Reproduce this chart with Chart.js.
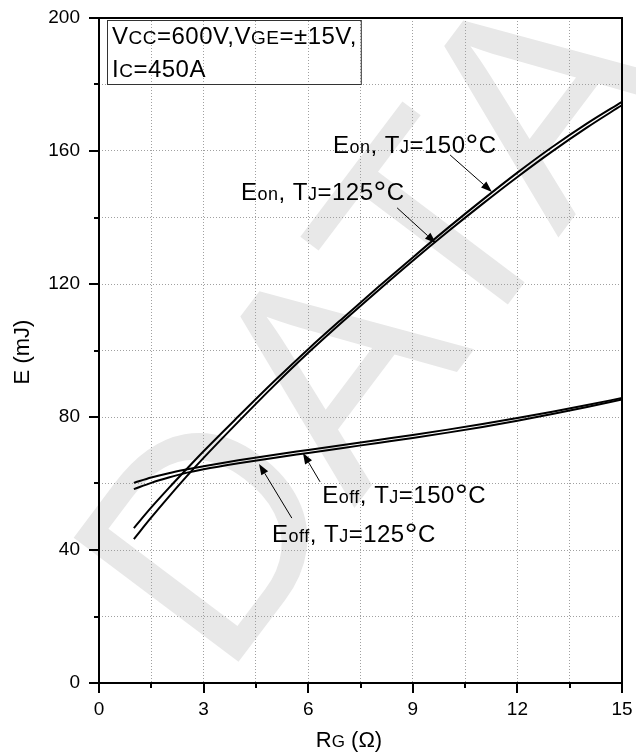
<!DOCTYPE html>
<html>
<head>
<meta charset="utf-8">
<script src="https://cdn.jsdelivr.net/npm/chart.js@4.4.0/dist/chart.umd.min.js"></script>
<style>
html, body { margin: 0; padding: 0; background: #fff; }
</style>
</head>
<body>
<canvas id="grafica" width="636" height="755"></canvas>
<script>
// RG (ohm) y energias (mJ)
const rg = [1, 1.5, 2, 2.5, 3, 4, 5, 6, 7, 8, 9, 10, 11, 12, 13, 14, 15];
const eon150 = [46.6, 52.8, 58.6, 64.2, 69.7, 80.2, 90.5, 100.4, 109.8, 119.0, 128.0, 136.8, 145.3, 153.5, 161.2, 168.3, 174.8];
const eon125 = [43.3, 49.8, 56.0, 62.0, 67.7, 78.6, 89.2, 99.3, 108.8, 118.0, 127.0, 135.7, 144.1, 152.2, 159.9, 167.1, 173.8];
const eoff150 = [60.2, 61.8, 63.1, 64.2, 65.2, 67.0, 68.6, 70.1, 71.6, 73.1, 74.6, 76.2, 77.9, 79.7, 81.6, 83.6, 85.7];
const eoff125 = [58.3, 60.2, 61.8, 63.2, 64.3, 66.1, 67.7, 69.2, 70.7, 72.2, 73.7, 75.3, 77.0, 78.9, 80.9, 83.0, 85.3];

const xTicks = [0, 3, 6, 9, 12, 15];
const yTicks = [0, 40, 80, 120, 160, 200];

const FONT = "'Liberation Sans', Arial, sans-serif";

// textos: [texto, modo] modo 0 normal, 1 versalita pequena, 2 signo de grado grande
const condiciones = [
    [["V", 0], ["CC", 1], ["=600V,", 0], ["V", 0], ["GE", 1], ["=\u00b115V,", 0]],
    [["I", 0], ["C", 1], ["=450A", 0]]
];
const etiquetas = [
    { partes: [["E", 0], ["on", 1], [", T", 0], ["J", 1], ["=150", 0], ["\u00b0", 2], ["C", 0]], x: 6.71, y: 159.4, desde: [10.07, 158.8], hasta: [11.27, 147.7] },
    { partes: [["E", 0], ["on", 1], [", T", 0], ["J", 1], ["=125", 0], ["\u00b0", 2], ["C", 0]], x: 4.07, y: 145.3, desde: [8.55, 142.9], hasta: [9.66, 132.3] },
    { partes: [["E", 0], ["off", 1], [", T", 0], ["J", 1], ["=150", 0], ["\u00b0", 2], ["C", 0]], x: 6.4, y: 54.1, desde: [6.34, 60.5], hasta: [5.85, 69.2] },
    { partes: [["E", 0], ["off", 1], [", T", 0], ["J", 1], ["=125", 0], ["\u00b0", 2], ["C", 0]], x: 4.96, y: 42.4, desde: [5.53, 49.6], hasta: [4.59, 65.9] }
];

function esEtiqueta(lista, v) {
    return lista.some(t => Math.abs(t - v) < 1e-6);
}

function textoRico(ctx, partes, x, y, tam, chico) {
    let cx = x;
    for (const [txt, modo] of partes) {
        const t = modo === 1 ? Math.round(tam * chico) : modo === 2 ? Math.round(tam * 1.35) : tam;
        ctx.font = t + "px " + FONT;
        ctx.fillText(txt, cx, modo === 2 ? y + tam * 0.12 : y);
        cx += ctx.measureText(txt).width;
    }
    return cx - x;
}

function flecha(ctx, x0, y0, x1, y1) {
    const ang = Math.atan2(y1 - y0, x1 - x0);
    const largo = 11, ancho = 4;
    ctx.beginPath();
    ctx.moveTo(x0, y0);
    ctx.lineTo(x1 - largo * Math.cos(ang), y1 - largo * Math.sin(ang));
    ctx.lineWidth = 1;
    ctx.strokeStyle = "#000";
    ctx.stroke();
    ctx.beginPath();
    ctx.moveTo(x1, y1);
    ctx.lineTo(x1 - largo * Math.cos(ang) + ancho * Math.sin(ang), y1 - largo * Math.sin(ang) - ancho * Math.cos(ang));
    ctx.lineTo(x1 - largo * Math.cos(ang) - ancho * Math.sin(ang), y1 - largo * Math.sin(ang) + ancho * Math.cos(ang));
    ctx.closePath();
    ctx.fillStyle = "#000";
    ctx.fill();
}

const fondo = {
    id: "fondo",
    beforeDraw(chart) {
        const ctx = chart.ctx;
        ctx.save();
        ctx.fillStyle = "#fff";
        ctx.fillRect(0, 0, chart.width, chart.height);
        // marca de agua
        ctx.translate(385, 330);
        ctx.rotate(-53 * Math.PI / 180);
        ctx.font = "300px " + FONT;
        ctx.fillStyle = "#e8e8e8";
        ctx.textAlign = "center";
        ctx.textBaseline = "middle";
        ctx.fillText("DATA", 0, 0);
        ctx.restore();
    }
};

const marco = {
    id: "marco",
    afterDraw(chart) {
        const ctx = chart.ctx;
        const a = chart.chartArea;
        const sx = chart.scales.x, sy = chart.scales.y;
        ctx.save();
        // marcas de los ejes
        ctx.strokeStyle = "#000";
        ctx.lineWidth = 2;
        ctx.beginPath();
        sx.ticks.forEach(t => {
            const px = Math.round(sx.getPixelForValue(t.value));
            const l = esEtiqueta(xTicks, t.value) ? 10 : 5;
            ctx.moveTo(px, a.bottom);
            ctx.lineTo(px, a.bottom + l);
        });
        sy.ticks.forEach(t => {
            const py = Math.round(sy.getPixelForValue(t.value));
            const l = esEtiqueta(yTicks, t.value) ? 10 : 5;
            ctx.moveTo(a.left, py);
            ctx.lineTo(a.left - l, py);
        });
        ctx.stroke();
        ctx.strokeRect(a.left, a.top, a.right - a.left, a.bottom - a.top);

        // cuadro de condiciones
        ctx.fillStyle = "#000";
        ctx.textBaseline = "alphabetic";
        ctx.letterSpacing = "0.5px";
        const ancho1 = textoRico(ctx, condiciones[0], a.left + 13, a.top + 26, 24, 0.8);
        textoRico(ctx, condiciones[1], a.left + 13, a.top + 59, 24, 0.8);
        ctx.lineWidth = 1;
        ctx.strokeStyle = "#333";
        ctx.strokeRect(a.left + 8.5, a.top + 2.5, ancho1 + 9, 64);

        // etiquetas de curvas
        etiquetas.forEach(e => {
            ctx.fillStyle = "#000";
            textoRico(ctx, e.partes, sx.getPixelForValue(e.x), sy.getPixelForValue(e.y), 24, 0.76);
            flecha(ctx, sx.getPixelForValue(e.desde[0]), sy.getPixelForValue(e.desde[1]),
                sx.getPixelForValue(e.hasta[0]), sy.getPixelForValue(e.hasta[1]));
        });
        ctx.letterSpacing = "0px";

        // titulos de ejes
        ctx.fillStyle = "#000";
        ctx.font = "22px " + FONT;
        const w = ctx.measureText("R (\u03a9)").width + (() => { ctx.font = "17px " + FONT; return ctx.measureText("G").width; })();
        textoRico(ctx, [["R", 0], ["G", 1], [" (\u03a9)", 0]], 349 - w / 2, 747, 22, 0.76);
        ctx.translate(29, 352);
        ctx.rotate(-Math.PI / 2);
        ctx.font = "22px " + FONT;
        ctx.textAlign = "center";
        ctx.fillText("E (mJ)", 0, 0);
        ctx.restore();
    }
};

const linea = (datos) => ({
    data: datos,
    borderColor: "#000",
    borderWidth: 2,
    pointRadius: 0,
    fill: false,
    cubicInterpolationMode: "monotone"
});

const ctxE = document.getElementById("grafica").getContext("2d");
window.graficaE = new Chart(ctxE, {
    type: "line",
    data: {
        labels: rg,
        datasets: [linea(eon150), linea(eon125), linea(eoff150), linea(eoff125)]
    },
    options: {
        responsive: false,
        animation: false,
        devicePixelRatio: 1,
        layout: { padding: { top: 18, right: 14, left: 0, bottom: 0 } },
        plugins: { legend: { display: false }, tooltip: { enabled: false } },
        scales: {
            x: {
                type: "linear",
                min: 0,
                max: 15,
                afterFit: s => { s.height = 72; s.paddingLeft = 0; s.paddingRight = 0; },
                ticks: {
                    stepSize: 1.5,
                    autoSkip: false,
                    maxRotation: 0,
                    padding: 15,
                    color: "#000",
                    font: { family: FONT, size: 19 },
                    callback: v => esEtiqueta(xTicks, v) ? String(Math.round(v)) : ""
                },
                grid: { color: "#a0a0a0", lineWidth: 1, drawTicks: false, borderDash: [1, 2] },
                border: { display: false, dash: [1, 2] }
            },
            y: {
                type: "linear",
                min: 0,
                max: 200,
                afterFit: s => { s.width = 99; s.paddingTop = 0; s.paddingBottom = 0; },
                ticks: {
                    stepSize: 20,
                    autoSkip: false,
                    padding: 19,
                    color: "#000",
                    font: { family: FONT, size: 19 },
                    callback: v => esEtiqueta(yTicks, v) ? String(Math.round(v)) : ""
                },
                grid: { color: "#a0a0a0", lineWidth: 1, drawTicks: false, borderDash: [1, 2] },
                border: { display: false, dash: [1, 2] }
            }
        }
    },
    plugins: [fondo, marco]
});
</script>
</body>
</html>
